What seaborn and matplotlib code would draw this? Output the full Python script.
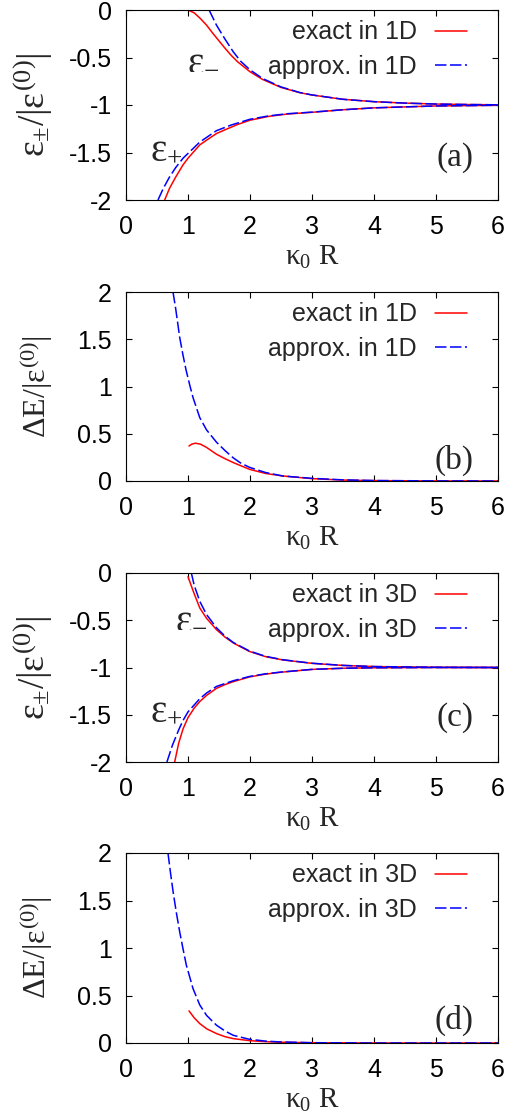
import matplotlib
matplotlib.use("Agg")
import matplotlib.pyplot as plt
import seaborn as sns

# ---- data ----
# panel (a): 1D energies
a_minus_exact_x = [1.0, 1.1, 1.2, 1.3, 1.4, 1.5, 1.6, 1.7, 1.8, 2.0, 2.2, 2.5, 2.8, 3.0, 3.5, 4.0, 4.5, 5.0, 5.5, 6.0]
a_minus_exact_y = [0.0, -0.03, -0.09, -0.16, -0.245, -0.325, -0.405, -0.48, -0.545, -0.65, -0.73, -0.815, -0.87, -0.895, -0.94, -0.965, -0.98, -0.99, -0.995, -0.998]
a_minus_approx_x = [1.34, 1.4, 1.46, 1.6, 1.73, 1.85, 2.0, 2.2, 2.5, 2.8, 3.0, 3.5, 4.0, 4.5, 5.0, 5.5, 6.0]
a_minus_approx_y = [0.0, -0.08, -0.16, -0.31, -0.44, -0.54, -0.63, -0.72, -0.81, -0.868, -0.894, -0.94, -0.965, -0.98, -0.99, -0.995, -0.998]
a_plus_exact_x = [0.624, 0.7, 0.8, 0.92, 1.0, 1.19, 1.3, 1.46, 1.6, 1.8, 2.0, 2.3, 2.6, 3.0, 3.5, 4.0, 4.5, 5.0, 6.0]
a_plus_exact_y = [-2.0, -1.88, -1.76, -1.63, -1.56, -1.42, -1.37, -1.30, -1.26, -1.205, -1.16, -1.12, -1.095, -1.077, -1.05, -1.03, -1.02, -1.01, -1.003]
a_plus_approx_x = [0.516, 0.6, 0.7, 0.8, 0.92, 1.0, 1.19, 1.46, 1.7, 2.0, 2.3, 2.6, 3.0, 3.5, 4.0, 4.5, 5.0, 6.0]
a_plus_approx_y = [-2.0, -1.88, -1.76, -1.66, -1.56, -1.51, -1.39, -1.27, -1.21, -1.15, -1.115, -1.092, -1.075, -1.05, -1.03, -1.02, -1.01, -1.003]

# panel (b): 1D splitting
b_exact_x = [1.016, 1.06, 1.12, 1.2, 1.3, 1.46, 1.6, 1.73, 1.99, 2.25, 2.53, 3.0, 3.5, 4.0, 5.0, 6.0]
b_exact_y = [0.37, 0.39, 0.40, 0.39, 0.355, 0.283, 0.235, 0.195, 0.124, 0.08, 0.053, 0.025, 0.01, 0.004, 0.001, 0.0]
b_approx_x = [0.758, 0.8, 0.866, 0.92, 0.97, 1.03, 1.08, 1.19, 1.3, 1.46, 1.6, 1.73, 1.85, 1.99, 2.25, 2.53, 3.0, 3.5, 4.0, 5.0, 6.0]
b_approx_y = [2.0, 1.83, 1.52, 1.33, 1.17, 1.01, 0.885, 0.67, 0.54, 0.41, 0.32, 0.245, 0.19, 0.145, 0.09, 0.053, 0.028, 0.012, 0.005, 0.001, 0.0]

# panel (c): 3D energies
c_minus_exact_x = [1.0, 1.1, 1.19, 1.3, 1.46, 1.6, 1.73, 1.99, 2.25, 2.53, 3.0, 3.5, 4.0, 5.0, 6.0]
c_minus_exact_y = [-0.04, -0.22, -0.37, -0.48, -0.60, -0.68, -0.74, -0.83, -0.885, -0.92, -0.956, -0.978, -0.99, -0.998, -1.0]
c_minus_approx_x = [1.054, 1.1, 1.19, 1.3, 1.46, 1.6, 1.73, 1.99, 2.25, 2.53, 3.0, 3.5, 4.0, 5.0, 6.0]
c_minus_approx_y = [0.0, -0.13, -0.30, -0.44, -0.58, -0.67, -0.735, -0.825, -0.882, -0.918, -0.955, -0.978, -0.99, -0.998, -1.0]
c_plus_exact_x = [0.785, 0.85, 0.92, 1.0, 1.1, 1.19, 1.3, 1.46, 1.6, 1.73, 1.99, 2.25, 2.5, 3.0, 3.5, 4.0, 5.0, 6.0]
c_plus_exact_y = [-2.0, -1.8, -1.65, -1.53, -1.43, -1.36, -1.295, -1.22, -1.18, -1.15, -1.10, -1.07, -1.05, -1.02, -1.008, -1.003, -1.0, -1.0]
c_plus_approx_x = [0.66, 0.75, 0.85, 0.92, 1.0, 1.19, 1.3, 1.46, 1.73, 1.99, 2.25, 2.5, 3.0, 3.5, 4.0, 5.0, 6.0]
c_plus_approx_y = [-2.0, -1.82, -1.66, -1.56, -1.47, -1.33, -1.27, -1.20, -1.14, -1.095, -1.067, -1.048, -1.02, -1.008, -1.003, -1.0, -1.0]

# panel (d): 3D splitting
d_exact_x = [1.016, 1.1, 1.19, 1.3, 1.46, 1.6, 1.73, 1.99, 2.25, 2.5, 3.0, 4.0, 6.0]
d_exact_y = [0.338, 0.265, 0.204, 0.15, 0.099, 0.066, 0.046, 0.025, 0.014, 0.008, 0.003, 0.0, 0.0]
d_approx_x = [0.677, 0.72, 0.758, 0.81, 0.866, 0.92, 0.973, 1.03, 1.08, 1.19, 1.3, 1.46, 1.6, 1.73, 1.99, 2.25, 2.5, 3.0, 4.0, 6.0]
d_approx_y = [2.0, 1.78, 1.60, 1.38, 1.17, 0.99, 0.82, 0.69, 0.574, 0.40, 0.29, 0.187, 0.125, 0.081, 0.039, 0.02, 0.011, 0.003, 0.0, 0.0]

x_ticks = [0, 1, 2, 3, 4, 5, 6]
energy_ticks = [0, -0.5, -1, -1.5, -2]
energy_ticklabels = ["0", "-0.5", "-1", "-1.5", "-2"]
split_ticks = [0, 0.5, 1, 1.5, 2]
split_ticklabels = ["0", "0.5", "1", "1.5", "2"]

RED = "#ff0000"
BLUE = "#0000ff"
SERIF = "Liberation Serif"

sns.set_style("ticks")
plt.rcParams.update({
    "font.family": ["Liberation Sans", "DejaVu Sans"],
    "mathtext.fontset": "custom",
    "mathtext.rm": SERIF,
    "mathtext.it": SERIF,
    "mathtext.bf": SERIF + ":bold",
    "axes.unicode_minus": False,
    "axes.linewidth": 0.8,
    "axes.edgecolor": "black",
})

fig = plt.figure(figsize=(5.21, 11.17), dpi=100)
W, H = 521.0, 1117.0
left, right = 126, 498
tops = [10, 292, 573, 853]
bottoms = [200, 481, 762, 1043]


def make_axes(i):
    return fig.add_axes([left / W, 1 - bottoms[i] / H, (right - left) / W, (bottoms[i] - tops[i]) / H])


def style_axes(ax, yticks, yticklabels, ylim, ylabel, ylabel_size):
    ax.set_xlim(0, 6)
    ax.set_ylim(*ylim)
    ax.set_xticks(x_ticks)
    ax.set_xticklabels([str(t) for t in x_ticks])
    ax.set_yticks(yticks)
    ax.set_yticklabels(yticklabels)
    ax.tick_params(direction="in", length=4, width=0.8, top=True, right=True,
                   labelsize=18, colors="black")
    ax.tick_params(axis="y", pad=10)
    ax.tick_params(axis="x", pad=11)
    ax.set_xlabel(r"$κ_0\ R$", fontsize=21)
    ax.xaxis.set_label_coords(0.5, -0.225)
    ax.set_ylabel(ylabel, fontsize=ylabel_size)
    ax.yaxis.set_label_coords(-0.19, 0.5)


def add_legend(ax, dim):
    ax.legend(ax.get_lines()[:1] + ax.get_lines()[-1:],
              [f"exact in {dim}", f"approx. in {dim}"],
              loc="upper right", bbox_to_anchor=(0.917, 0.945), frameon=False,
              markerfirst=False, fontsize=18, handlelength=1.3, handletextpad=0.7,
              labelspacing=0.42, borderaxespad=0, borderpad=0)


energy_label = r"$ε_{\pm}/|ε^{(0)}|$"
split_label = r"$ΔE/|ε^{(0)}|$"
dash = (0, (7.5, 2.3))

# (a)
ax = make_axes(0)
sns.lineplot(x=a_minus_exact_x, y=a_minus_exact_y, ax=ax, color=RED, lw=1.1, sort=False, estimator=None)
sns.lineplot(x=a_plus_exact_x, y=a_plus_exact_y, ax=ax, color=RED, lw=1.1, sort=False, estimator=None)
sns.lineplot(x=a_minus_approx_x, y=a_minus_approx_y, ax=ax, color=BLUE, lw=1.1, linestyle=dash, sort=False, estimator=None)
sns.lineplot(x=a_plus_approx_x, y=a_plus_approx_y, ax=ax, color=BLUE, lw=1.1, linestyle=dash, sort=False, estimator=None)
style_axes(ax, energy_ticks, energy_ticklabels, (-2, 0), energy_label, 27)
add_legend(ax, "1D")
ax.text(0.98, -0.52, r"$ε_{-}$", fontsize=28, ha="left", va="center")
ax.text(0.39, -1.45, r"$ε_{+}$", fontsize=28, ha="left", va="center")
ax.text(5.6, -1.55, "(a)", fontsize=24, family=SERIF, ha="right", va="center")

# (b)
ax = make_axes(1)
sns.lineplot(x=b_exact_x, y=b_exact_y, ax=ax, color=RED, lw=1.1, sort=False, estimator=None)
sns.lineplot(x=b_approx_x, y=b_approx_y, ax=ax, color=BLUE, lw=1.1, linestyle=dash, sort=False, estimator=None)
style_axes(ax, split_ticks, split_ticklabels, (0, 2), split_label, 23)
add_legend(ax, "1D")
ax.text(5.6, 0.215, "(b)", fontsize=24, family=SERIF, ha="right", va="center")

# (c)
ax = make_axes(2)
sns.lineplot(x=c_minus_exact_x, y=c_minus_exact_y, ax=ax, color=RED, lw=1.1, sort=False, estimator=None)
sns.lineplot(x=c_plus_exact_x, y=c_plus_exact_y, ax=ax, color=RED, lw=1.1, sort=False, estimator=None)
sns.lineplot(x=c_minus_approx_x, y=c_minus_approx_y, ax=ax, color=BLUE, lw=1.1, linestyle=dash, sort=False, estimator=None)
sns.lineplot(x=c_plus_approx_x, y=c_plus_approx_y, ax=ax, color=BLUE, lw=1.1, linestyle=dash, sort=False, estimator=None)
style_axes(ax, energy_ticks, energy_ticklabels, (-2, 0), energy_label, 27)
add_legend(ax, "3D")
ax.text(0.79, -0.47, r"$ε_{-}$", fontsize=28, ha="left", va="center")
ax.text(0.39, -1.44, r"$ε_{+}$", fontsize=28, ha="left", va="center")
ax.text(5.6, -1.53, "(c)", fontsize=24, family=SERIF, ha="right", va="center")

# (d)
ax = make_axes(3)
sns.lineplot(x=d_exact_x, y=d_exact_y, ax=ax, color=RED, lw=1.1, sort=False, estimator=None)
sns.lineplot(x=d_approx_x, y=d_approx_y, ax=ax, color=BLUE, lw=1.1, linestyle=dash, sort=False, estimator=None)
style_axes(ax, split_ticks, split_ticklabels, (0, 2), split_label, 23)
add_legend(ax, "3D")
ax.text(5.6, 0.235, "(d)", fontsize=24, family=SERIF, ha="right", va="center")

fig.savefig("out.png", dpi=100)
plt.close(fig)
print("saved out.png")
